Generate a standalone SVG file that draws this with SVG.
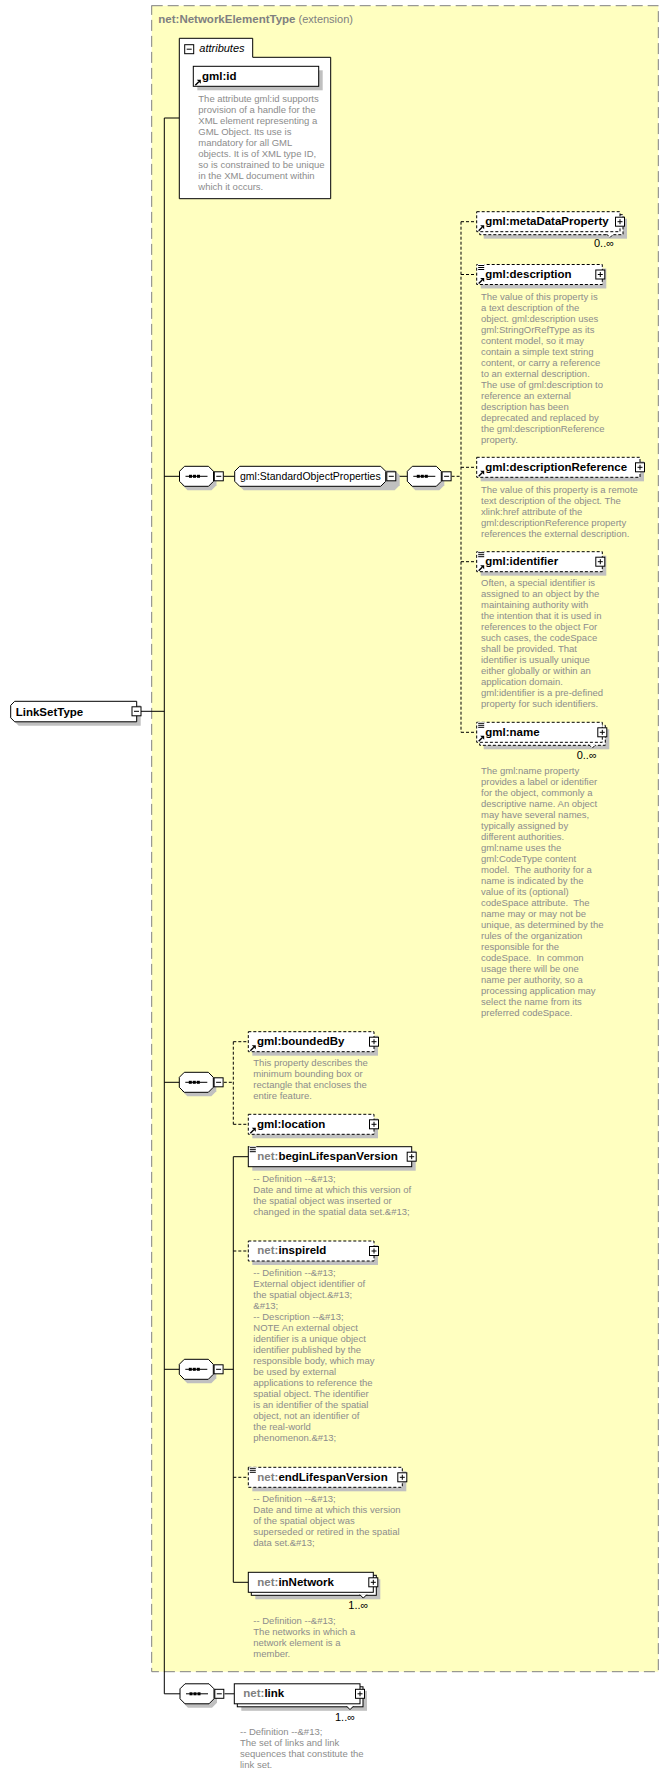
<svg xmlns="http://www.w3.org/2000/svg" xmlns:xlink="http://www.w3.org/1999/xlink" width="669" height="1777" viewBox="0 0 669 1777">
<style>
.el{font-family:"Liberation Sans",Arial,sans-serif;font-size:11.5px;font-weight:bold;fill:#000}
.pfx{fill:#808080}
.desc{font-family:"Liberation Sans",Arial,sans-serif;font-size:9.5px;fill:#8c8c8c;white-space:pre}
.card{font-family:"Liberation Sans",Arial,sans-serif;font-size:11px;fill:#000}
.box{fill:#fff;stroke:#000;stroke-width:1}
.opt{stroke-dasharray:3,2}
.sh{fill:#c0c0c0}
.ln{stroke:#000;stroke-width:1;fill:none}
.dl{stroke-dasharray:3,2}
</style>
<defs>
<g id="plus"><rect x="-4.5" y="-4.5" width="9" height="9" fill="#fff" stroke="#000"/><path d="M-2.5 0H2.5M0 -2.5V2.5" stroke="#000"/></g>
<g id="minus"><rect x="-4.5" y="-4.5" width="9" height="9" fill="#fff" stroke="#000"/><path d="M-2.5 0H2.5" stroke="#000"/></g>
<g id="ref"><path d="M2 19L5.5 15.5" stroke="#000" stroke-width="1.4"/><path d="M3.5 13.5H7.5V17.5Z" fill="#000"/></g>
<g id="simple"><rect x="1" y="-1" width="7" height="7" fill="#fff"/><path d="M1.5 0.5H7.5M1.5 2.5H7.5M1.5 4.5H7.5" stroke="#000"/></g>
<g id="seq">
<polygon points="8,4 32,4 37,9 37,19 32,24 8,24 3,19 3,9" class="sh"/>
<polygon points="5,0 29,0 34,5 34,15 29,20 5,20 0,15 0,5" fill="#fff" stroke="#000"/>
<path d="M6 10H28" stroke="#000"/>
<rect x="9.5" y="8.5" width="3" height="3"/><rect x="13.5" y="8.5" width="3" height="3"/><rect x="17.5" y="8.5" width="3" height="3"/>
<use xlink:href="#minus" x="39.3" y="10"/>
</g>
</defs>

<g id="extension">
<rect x="151.7" y="5.7" width="506.6" height="1666" fill="#ffffc0" stroke="#808080" stroke-dasharray="11,5"/>
<text x="158.3" y="22.7" font-family="Liberation Sans,Arial,sans-serif" font-size="11.5px" fill="#808080"><tspan font-weight="bold">net:NetworkElementType</tspan><tspan font-size="11px"> (extension)</tspan></text>
</g>

<g id="connectors" class="ln">
<path d="M141 711.3H164.3"/>
<path d="M164.3 118V1693.8"/>
<path d="M164.3 118H179.3"/>
<path d="M164.3 476.3H179.5"/>
<path d="M223.8 476.3H234.7"/>
<path d="M395.9 476.3H407.3"/>
<path class="dl" d="M451.6 476.3H461"/>
<path class="dl" d="M461 221.7V732.3"/>
<path class="dl" d="M461 221.7H476.7M461 274.5H476.7M461 467.3H476.7M461 561.7H476.7M461 732.3H476.7"/>
<path d="M164.3 1082.3H179.3"/>
<path class="dl" d="M223.8 1082.3H233.3"/>
<path class="dl" d="M233.3 1041.7V1124.3"/>
<path class="dl" d="M233.3 1041.7H248.3M233.3 1124.3H248.3"/>
<path d="M164.3 1369.3H179.3"/>
<path d="M223.8 1369.3H233.3"/>
<path d="M233.3 1156.7V1582.3"/>
<path d="M233.3 1156.7H248.3M233.3 1582.3H248.3"/>
<path class="dl" d="M233.3 1251H248.3M233.3 1477.3H248.3"/>
<path d="M164.3 1693.8H180"/>
<path d="M224.5 1693.8H234.3"/>
</g>

<g id="n-LinkSetType">
<polygon points="18.7,705.3 140.7,705.3 140.7,725.8 18.7,725.8 14.7,721.8 14.7,709.3" class="sh"/>
<polygon points="14.7,701.3 136.7,701.3 136.7,721.8 14.7,721.8 10.7,717.8 10.7,705.3" class="box"/>
<text x="15.7" y="715.5" class="el" font-size="12px">LinkSetType</text>
<use xlink:href="#minus" x="136.5" y="711.3"/>
</g>

<g id="n-attributes">
<path d="M179.3 198.7V38.3H252.7V57.3H330.7V198.7Z" class="box"/>
<use xlink:href="#minus" x="189.2" y="49.2"/>
<text x="199.3" y="52" font-family="Liberation Sans,Arial,sans-serif" font-size="11px" font-style="italic">attributes</text>
</g>

<g id="n-gml-id">
<rect x="197.3" y="70.3" width="125.4" height="20" class="sh"/>
<rect x="193.3" y="66.3" width="125.4" height="20" class="box"/>
<use xlink:href="#ref" x="193.3" y="66.3"/>
<text x="202" y="79.6" class="el">gml:id</text>
<text class="desc" y="101.7"><tspan x="198.3">The attribute gml:id supports</tspan><tspan x="198.3" dy="11">provision of a handle for the</tspan><tspan x="198.3" dy="11">XML element representing a</tspan><tspan x="198.3" dy="11">GML Object. Its use is</tspan><tspan x="198.3" dy="11">mandatory for all GML</tspan><tspan x="198.3" dy="11">objects. It is of XML type ID,</tspan><tspan x="198.3" dy="11">so is constrained to be unique</tspan><tspan x="198.3" dy="11">in the XML document within</tspan><tspan x="198.3" dy="11">which it occurs.</tspan></text>
</g>

<g id="n-seq1"><use xlink:href="#seq" x="179.5" y="466.3"/></g>

<g id="n-StandardObjectProperties">
<polygon points="243.7,470.3 394.7,470.3 399.7,475.3 399.7,485.3 394.7,490.3 243.7,490.3 238.7,485.3 238.7,475.3" class="sh"/>
<polygon points="239.7,466.3 380.7,466.3 385.7,471.3 385.7,481.3 380.7,486.3 239.7,486.3 234.7,481.3 234.7,471.3" class="box"/>
<text x="240" y="480" font-family="Liberation Sans,Arial,sans-serif" font-size="10.5px">gml:StandardObjectProperties</text>
<use xlink:href="#minus" x="391.3" y="476.3"/>
</g>

<g id="n-seq2"><use xlink:href="#seq" x="407.3" y="466.3"/></g>

<g id="n-metaDataProperty">
<rect x="483.7" y="218.7" width="143.3" height="20" class="sh"/>
<rect x="479.7" y="214.7" width="143.3" height="20" class="box opt"/>
<polyline points="606.5,234 610,237.5 613.5,234" class="box opt"/>
<rect x="476.7" y="211.7" width="143.3" height="20" class="box opt"/>
<use xlink:href="#ref" x="476.7" y="211.7"/>
<text x="485.3" y="225" class="el">gml:metaDataProperty</text>
<use xlink:href="#plus" x="620" y="221.7"/>
<text x="594" y="247.3" class="card">0..∞</text>
</g>

<g id="n-description">
<rect x="480.7" y="268.5" width="125.6" height="20" class="sh"/>
<rect x="476.7" y="264.5" width="125.6" height="20" class="box opt"/>
<use xlink:href="#simple" x="476.7" y="265"/>
<use xlink:href="#ref" x="476.7" y="264.5"/>
<text x="485.3" y="277.8" class="el">gml:description</text>
<use xlink:href="#plus" x="600.3" y="274.5"/>
<text class="desc" y="300"><tspan x="481">The value of this property is</tspan><tspan x="481" dy="11">a text description of the</tspan><tspan x="481" dy="11">object. gml:description uses</tspan><tspan x="481" dy="11">gml:StringOrRefType as its</tspan><tspan x="481" dy="11">content model, so it may</tspan><tspan x="481" dy="11">contain a simple text string</tspan><tspan x="481" dy="11">content, or carry a reference</tspan><tspan x="481" dy="11">to an external description.</tspan><tspan x="481" dy="11">The use of gml:description to</tspan><tspan x="481" dy="11">reference an external</tspan><tspan x="481" dy="11">description has been</tspan><tspan x="481" dy="11">deprecated and replaced by</tspan><tspan x="481" dy="11">the gml:descriptionReference</tspan><tspan x="481" dy="11">property.</tspan></text>
</g>

<g id="n-descriptionReference">
<rect x="480.7" y="461.3" width="163.3" height="20" class="sh"/>
<rect x="476.7" y="457.3" width="163.3" height="20" class="box opt"/>
<use xlink:href="#ref" x="476.7" y="457.3"/>
<text x="485.3" y="470.6" class="el">gml:descriptionReference</text>
<use xlink:href="#plus" x="640" y="467.3"/>
<text class="desc" y="492.7"><tspan x="481">The value of this property is a remote</tspan><tspan x="481" dy="11">text description of the object. The</tspan><tspan x="481" dy="11">xlink:href attribute of the</tspan><tspan x="481" dy="11">gml:descriptionReference property</tspan><tspan x="481" dy="11">references the external description.</tspan></text>
</g>

<g id="n-identifier">
<rect x="480.7" y="555.7" width="125.6" height="20" class="sh"/>
<rect x="476.7" y="551.7" width="125.6" height="20" class="box opt"/>
<use xlink:href="#simple" x="476.7" y="552.2"/>
<use xlink:href="#ref" x="476.7" y="551.7"/>
<text x="485.3" y="565" class="el">gml:identifier</text>
<use xlink:href="#plus" x="600.3" y="561.7"/>
<text class="desc" y="586"><tspan x="481">Often, a special identifier is</tspan><tspan x="481" dy="11">assigned to an object by the</tspan><tspan x="481" dy="11">maintaining authority with</tspan><tspan x="481" dy="11">the intention that it is used in</tspan><tspan x="481" dy="11">references to the object For</tspan><tspan x="481" dy="11">such cases, the codeSpace</tspan><tspan x="481" dy="11">shall be provided. That</tspan><tspan x="481" dy="11">identifier is usually unique</tspan><tspan x="481" dy="11">either globally or within an</tspan><tspan x="481" dy="11">application domain.</tspan><tspan x="481" dy="11">gml:identifier is a pre-defined</tspan><tspan x="481" dy="11">property for such identifiers.</tspan></text>
</g>

<g id="n-name">
<rect x="483.7" y="729.3" width="125.6" height="20" class="sh"/>
<rect x="479.7" y="725.3" width="125.6" height="20" class="box opt"/>
<polyline points="588.8,744.6 592.3,748.1 595.8,744.6" class="box opt"/>
<rect x="476.7" y="722.3" width="125.6" height="20" class="box opt"/>
<use xlink:href="#simple" x="476.7" y="722.8"/>
<use xlink:href="#ref" x="476.7" y="722.3"/>
<text x="485.3" y="735.7" class="el">gml:name</text>
<use xlink:href="#plus" x="602.3" y="732.3"/>
<text x="576.7" y="759.3" class="card">0..∞</text>
<text class="desc" y="774"><tspan x="481">The gml:name property</tspan><tspan x="481" dy="11">provides a label or identifier</tspan><tspan x="481" dy="11">for the object, commonly a</tspan><tspan x="481" dy="11">descriptive name. An object</tspan><tspan x="481" dy="11">may have several names,</tspan><tspan x="481" dy="11">typically assigned by</tspan><tspan x="481" dy="11">different authorities.</tspan><tspan x="481" dy="11">gml:name uses the</tspan><tspan x="481" dy="11">gml:CodeType content</tspan><tspan x="481" dy="11">model.  The authority for a</tspan><tspan x="481" dy="11">name is indicated by the</tspan><tspan x="481" dy="11">value of its (optional)</tspan><tspan x="481" dy="11">codeSpace attribute.  The</tspan><tspan x="481" dy="11">name may or may not be</tspan><tspan x="481" dy="11">unique, as determined by the</tspan><tspan x="481" dy="11">rules of the organization</tspan><tspan x="481" dy="11">responsible for the</tspan><tspan x="481" dy="11">codeSpace.  In common</tspan><tspan x="481" dy="11">usage there will be one</tspan><tspan x="481" dy="11">name per authority, so a</tspan><tspan x="481" dy="11">processing application may</tspan><tspan x="481" dy="11">select the name from its</tspan><tspan x="481" dy="11">preferred codeSpace.</tspan></text>
</g>

<g id="n-seq3"><use xlink:href="#seq" x="179.3" y="1072.3"/></g>

<g id="n-boundedBy">
<rect x="252.3" y="1035.7" width="125.7" height="20" class="sh"/>
<rect x="248.3" y="1031.7" width="125.7" height="20" class="box opt"/>
<use xlink:href="#ref" x="248.3" y="1031.7"/>
<text x="257" y="1045" class="el">gml:boundedBy</text>
<use xlink:href="#plus" x="374" y="1041.7"/>
<text class="desc" y="1065.7"><tspan x="253.3">This property describes the</tspan><tspan x="253.3" dy="11">minimum bounding box or</tspan><tspan x="253.3" dy="11">rectangle that encloses the</tspan><tspan x="253.3" dy="11">entire feature.</tspan></text>
</g>

<g id="n-location">
<rect x="252.3" y="1118.3" width="125.7" height="20" class="sh"/>
<rect x="248.3" y="1114.3" width="125.7" height="20" class="box opt"/>
<use xlink:href="#ref" x="248.3" y="1114.3"/>
<text x="257" y="1127.6" class="el">gml:location</text>
<use xlink:href="#plus" x="374" y="1124.3"/>
</g>

<g id="n-seq4"><use xlink:href="#seq" x="179.3" y="1359.3"/></g>

<g id="n-beginLifespanVersion">
<rect x="252.3" y="1150.7" width="163.4" height="20" class="sh"/>
<rect x="248.3" y="1146.7" width="163.4" height="20" class="box"/>
<use xlink:href="#simple" x="248.3" y="1147.2"/>
<text x="257.3" y="1160" class="el"><tspan class="pfx">net:</tspan>beginLifespanVersion</text>
<use xlink:href="#plus" x="411.7" y="1156.7"/>
<text class="desc" y="1181.7"><tspan x="253.3">-- Definition --&amp;#13;</tspan><tspan x="253.3" dy="11">Date and time at which this version of</tspan><tspan x="253.3" dy="11">the spatial object was inserted or</tspan><tspan x="253.3" dy="11">changed in the spatial data set.&amp;#13;</tspan></text>
</g>

<g id="n-inspireId">
<rect x="252.3" y="1245" width="125.7" height="20" class="sh"/>
<rect x="248.3" y="1241" width="125.7" height="20" class="box opt"/>
<text x="257.3" y="1254.3" class="el"><tspan class="pfx">net:</tspan>inspireId</text>
<use xlink:href="#plus" x="374" y="1251"/>
<text class="desc" y="1275.7"><tspan x="253.3">-- Definition --&amp;#13;</tspan><tspan x="253.3" dy="11">External object identifier of</tspan><tspan x="253.3" dy="11">the spatial object.&amp;#13;</tspan><tspan x="253.3" dy="11">&amp;#13;</tspan><tspan x="253.3" dy="11">-- Description --&amp;#13;</tspan><tspan x="253.3" dy="11">NOTE An external object</tspan><tspan x="253.3" dy="11">identifier is a unique object</tspan><tspan x="253.3" dy="11">identifier published by the</tspan><tspan x="253.3" dy="11">responsible body, which may</tspan><tspan x="253.3" dy="11">be used by external</tspan><tspan x="253.3" dy="11">applications to reference the</tspan><tspan x="253.3" dy="11">spatial object. The identifier</tspan><tspan x="253.3" dy="11">is an identifier of the spatial</tspan><tspan x="253.3" dy="11">object, not an identifier of</tspan><tspan x="253.3" dy="11">the real-world</tspan><tspan x="253.3" dy="11">phenomenon.&amp;#13;</tspan></text>
</g>

<g id="n-endLifespanVersion">
<rect x="252.3" y="1471.3" width="154" height="20" class="sh"/>
<rect x="248.3" y="1467.3" width="154" height="20" class="box opt"/>
<use xlink:href="#simple" x="248.3" y="1467.8"/>
<text x="257.3" y="1480.6" class="el"><tspan class="pfx">net:</tspan>endLifespanVersion</text>
<use xlink:href="#plus" x="402.3" y="1477.3"/>
<text class="desc" y="1502.3"><tspan x="253.3">-- Definition --&amp;#13;</tspan><tspan x="253.3" dy="11">Date and time at which this version</tspan><tspan x="253.3" dy="11">of the spatial object was</tspan><tspan x="253.3" dy="11">superseded or retired in the spatial</tspan><tspan x="253.3" dy="11">data set.&amp;#13;</tspan></text>
</g>

<g id="n-inNetwork">
<rect x="255.3" y="1579.3" width="125" height="20" class="sh"/>
<rect x="251.3" y="1575.3" width="125" height="20" class="box"/>
<polyline points="359.8,1594.6 363.3,1598.1 366.8,1594.6" class="box"/>
<rect x="248.3" y="1572.3" width="125" height="20" class="box"/>
<text x="257.3" y="1585.7" class="el"><tspan class="pfx">net:</tspan>inNetwork</text>
<use xlink:href="#plus" x="373.3" y="1582.3"/>
<text x="348.3" y="1609" class="card">1..∞</text>
<text class="desc" y="1624"><tspan x="253.3">-- Definition --&amp;#13;</tspan><tspan x="253.3" dy="11">The networks in which a</tspan><tspan x="253.3" dy="11">network element is a</tspan><tspan x="253.3" dy="11">member.</tspan></text>
</g>

<g id="n-seq5"><use xlink:href="#seq" x="180" y="1683.8"/></g>

<g id="n-link">
<rect x="241.3" y="1690.8" width="125.7" height="20" class="sh"/>
<rect x="237.3" y="1686.8" width="125.7" height="20" class="box"/>
<polyline points="346.5,1706.1 350,1709.6 353.5,1706.1" class="box"/>
<rect x="234.3" y="1683.8" width="125.7" height="20" class="box"/>
<text x="243.3" y="1697.1" class="el"><tspan class="pfx">net:</tspan>link</text>
<use xlink:href="#plus" x="360" y="1693.8"/>
<text x="335" y="1720.7" class="card">1..∞</text>
<text class="desc" y="1735"><tspan x="240">-- Definition --&amp;#13;</tspan><tspan x="240" dy="11">The set of links and link</tspan><tspan x="240" dy="11">sequences that constitute the</tspan><tspan x="240" dy="11">link set.</tspan></text>
</g>
</svg>
